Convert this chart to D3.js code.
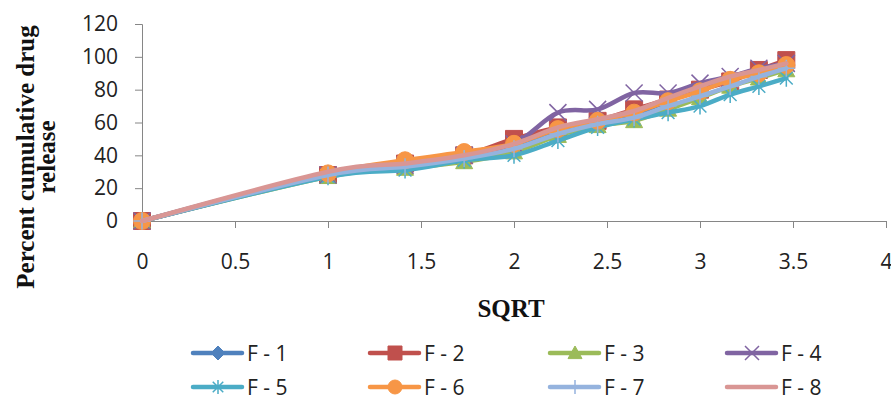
<!DOCTYPE html>
<html>
<head>
<meta charset="utf-8">
<script src="https://cdn.jsdelivr.net/npm/d3@7"></script>
<style>
  html, body { margin: 0; padding: 0; background: #fff; }
  #chart { width: 891px; height: 401px; }
</style>
</head>
<body>
<div id="chart"></div>
<script>
// Cumulative drug release vs square root of time, formulations F-1 .. F-8
const hours = [0, 1, 2, 3, 4, 5, 6, 7, 8, 9, 10, 11, 12];
const sqrtTime = hours.map(h => Math.sqrt(h));

const seriesNames = ["F - 1", "F - 2", "F - 3", "F - 4", "F - 5", "F - 6", "F - 7", "F - 8"];
const f1 = [0, 29, 34, 39, 46, 55, 60, 65, 73, 80, 86, 91, 95];
const f2 = [0, 28, 35, 40, 50, 57, 61, 68, 74, 80, 85, 92, 98];
const f3 = [0, 27, 32, 36, 42, 52, 58, 61, 68, 75, 82, 87, 92];
const f4 = [0, 28, 34, 40, 47, 66, 68, 78, 78, 84, 88, 93, 96];
const f5 = [0, 27, 31, 37, 40, 49, 57, 62, 66, 70, 77, 82, 87];
const f6 = [0, 29, 37, 42, 47, 56, 61, 66, 73, 79, 86, 90, 95];
const f7 = [0, 28, 33, 38, 44, 53, 59, 63, 70, 76, 82, 88, 93];
const f8 = [0, 30, 35, 40, 47, 57, 62, 67, 75, 82, 88, 92, 96];
const seriesValues = [f1, f2, f3, f4, f5, f6, f7, f8];

const xTicks = [0, 0.5, 1, 1.5, 2, 2.5, 3, 3.5, 4];
const yTicks = [0, 20, 40, 60, 80, 100, 120];

const colors = ["#4F81BD", "#C0504D", "#9BBB59", "#8064A2", "#4BACC6", "#F79646", "#95B3DE", "#D99694"];
const markers = ["diamond", "square", "triangle", "x", "star", "circle", "plus", "none"];

const svg = d3.select("#chart").append("svg")
  .attr("width", 891).attr("height", 401);

const x = d3.scaleLinear().domain([0, 4]).range([142, 886]);
const y = d3.scaleLinear().domain([0, 120]).range([221, 24]);

const tickFont = "'Open Sans', 'Noto Sans', sans-serif";
const axisColor = "#868686";

// Y axis
const yAxis = svg.append("g")
  .attr("transform", `translate(${x(0)},0)`)
  .call(d3.axisLeft(y).tickValues(yTicks).tickSize(7).tickPadding(17));
yAxis.select(".domain").attr("stroke", axisColor);
yAxis.selectAll(".tick line").attr("stroke", axisColor);
yAxis.selectAll(".tick text")
  .attr("font-family", tickFont).attr("font-size", "21px").attr("fill", "#222");

// X axis
const xAxis = svg.append("g")
  .attr("transform", `translate(0,${y(0)})`)
  .call(d3.axisBottom(x).tickValues(xTicks).tickSize(7).tickPadding(26).tickFormat(d3.format("")));
xAxis.select(".domain").attr("stroke", axisColor);
xAxis.selectAll(".tick line").attr("stroke", axisColor);
xAxis.selectAll(".tick text")
  .attr("font-family", tickFont).attr("font-size", "21px").attr("fill", "#222");

// Axis titles
const yTitle = svg.append("text")
  .attr("transform", "translate(34,157) rotate(-90)")
  .attr("text-anchor", "middle")
  .attr("font-family", "'Liberation Serif', 'Times New Roman', serif")
  .attr("font-weight", "bold").attr("font-size", "25px").attr("fill", "#111");
yTitle.append("tspan").attr("x", 0).attr("y", 0).text("Percent cumulative drug");
yTitle.append("tspan").attr("x", 0).attr("y", 21).text("release");

svg.append("text")
  .attr("x", 511).attr("y", 317)
  .attr("text-anchor", "middle")
  .attr("font-family", "'Liberation Serif', 'Times New Roman', serif")
  .attr("font-weight", "bold").attr("font-size", "25px").attr("fill", "#111")
  .text("SQRT");

// Marker drawing; s is the half-size in pixels
function drawMarker(g, type, color, cx, cy, s) {
  let d = null, filled = true;
  if (type === "diamond") {
    d = `M${cx},${cy - s}L${cx + s},${cy}L${cx},${cy + s}L${cx - s},${cy}Z`;
  } else if (type === "square") {
    d = `M${cx - s},${cy - s}h${2 * s}v${2 * s}h${-2 * s}Z`;
  } else if (type === "triangle") {
    d = `M${cx},${cy - s}L${cx + s},${cy + s * 0.8}L${cx - s},${cy + s * 0.8}Z`;
  } else if (type === "circle") {
    g.append("circle").attr("cx", cx).attr("cy", cy).attr("r", s)
      .attr("fill", color).attr("stroke", color);
    return;
  } else if (type === "x") {
    filled = false;
    d = `M${cx - s},${cy - s}L${cx + s},${cy + s}M${cx - s},${cy + s}L${cx + s},${cy - s}`;
  } else if (type === "star") {
    filled = false;
    const k = s * 0.75;
    d = `M${cx - k},${cy - k}L${cx + k},${cy + k}M${cx - k},${cy + k}L${cx + k},${cy - k}M${cx},${cy - s}L${cx},${cy + s}`;
  } else if (type === "plus") {
    filled = false;
    d = `M${cx},${cy - s}L${cx},${cy + s}M${cx - s},${cy}L${cx + s},${cy}`;
  }
  if (!d) return;
  g.append("path").attr("d", d)
    .attr("fill", filled ? color : "none")
    .attr("stroke", color)
    .attr("stroke-width", filled ? 1 : 1.5);
}

const line = d3.line()
  .x(d => x(d[0]))
  .y(d => y(d[1]))
  .curve(d3.curveCardinal.tension(0));

const plot = svg.append("g");
seriesValues.forEach((vals, i) => {
  const pts = vals.map((v, k) => [sqrtTime[k], v]);
  const g = plot.append("g");
  g.append("path")
    .attr("d", line(pts))
    .attr("fill", "none")
    .attr("stroke", colors[i])
    .attr("stroke-width", 4.5)
    .attr("stroke-linejoin", "round")
    .attr("stroke-linecap", "round");
  pts.forEach(p => drawMarker(g, markers[i], colors[i], x(p[0]), y(p[1]), 8.5));
});

// Legend
const legCols = [193, 370, 550, 727];
const legRows = [353, 387];
const legend = svg.append("g");
seriesNames.forEach((name, i) => {
  const lx = legCols[i % 4];
  const ly = legRows[Math.floor(i / 4)];
  const g = legend.append("g");
  g.append("line")
    .attr("x1", lx).attr("x2", lx + 49)
    .attr("y1", ly).attr("y2", ly)
    .attr("stroke", colors[i]).attr("stroke-width", 4.5).attr("stroke-linecap", "round");
  drawMarker(g, markers[i], colors[i], lx + 25, ly, 7);
  g.append("text")
    .attr("x", lx + 54).attr("y", ly)
    .attr("dy", "0.36em")
    .attr("font-family", tickFont).attr("font-size", "21px").attr("fill", "#222")
    .text(name);
});
</script>
</body>
</html>
